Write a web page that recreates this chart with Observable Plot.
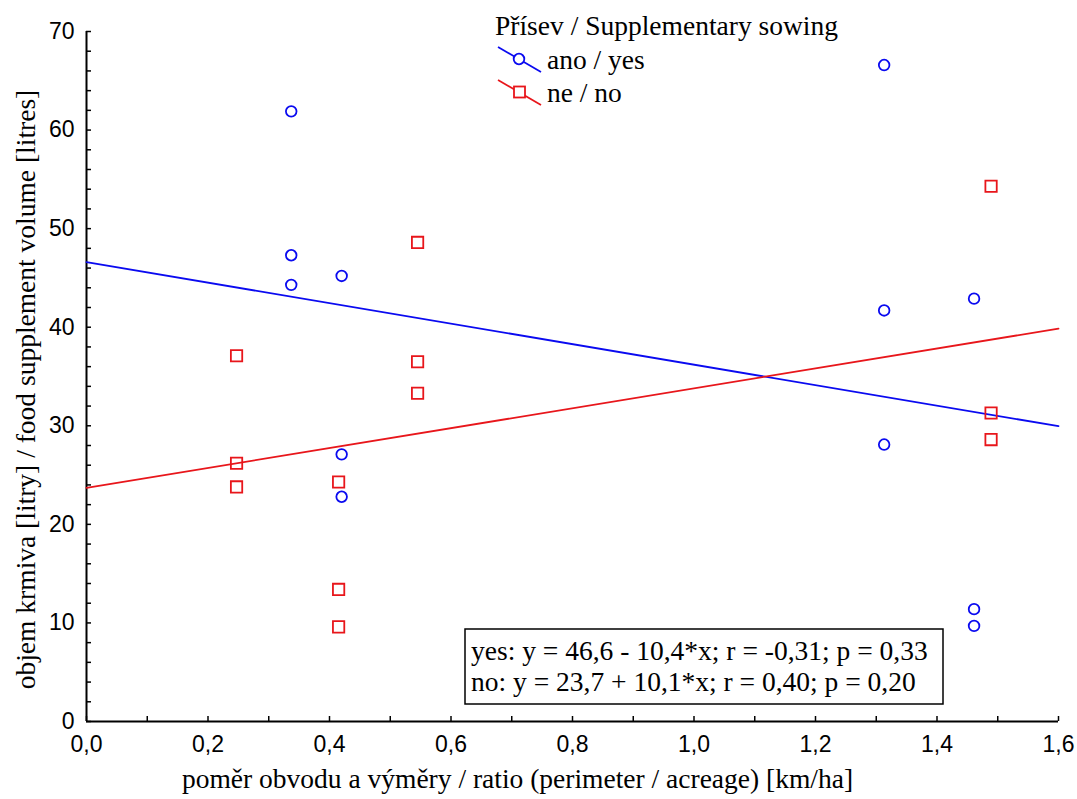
<!DOCTYPE html>
<html><head><meta charset="utf-8">
<script src="https://cdn.jsdelivr.net/npm/d3@7"></script>
<script src="https://cdn.jsdelivr.net/npm/@observablehq/plot@0.6"></script>
<style>
body{margin:0;background:#fff}
#wrap{position:relative;width:1077px;height:799px;overflow:hidden}
#wrap svg{display:block}
#overlay{position:absolute;left:0;top:0;pointer-events:none}
</style>
</head><body>
<div id="wrap"></div>
<script>
// ---- data ----
const yesX = [0.337, 0.337, 0.337, 0.420, 0.420, 0.420, 1.313, 1.313, 1.313, 1.461, 1.461, 1.461];
const yesY = [61.9, 47.3, 44.3, 45.2, 27.1, 22.8, 66.6, 41.7, 28.1, 42.9, 11.4, 9.7];
const noX  = [0.247, 0.247, 0.247, 0.415, 0.415, 0.415, 0.545, 0.545, 0.545, 1.489, 1.489, 1.489];
const noY  = [37.1, 26.2, 23.8, 24.3, 13.4, 9.6, 48.6, 36.5, 33.3, 54.3, 31.3, 28.6];
const fitX = [0, 1.6];
const yesFitY = [46.6, 29.96];
const noFitY = [23.7, 39.86];
const xMajor = [0, 0.2, 0.4, 0.6, 0.8, 1.0, 1.2, 1.4, 1.6];
const xMinor = [0.1, 0.3, 0.5, 0.7, 0.9, 1.1, 1.3, 1.5];
const yMajor = [0, 10, 20, 30, 40, 50, 60, 70];
const yMinor = [2,4,6,8,12,14,16,18,22,24,26,28,32,34,36,38,42,44,46,48,52,54,56,58,62,64,66,68];
const seriesNames = ["ano / yes", "ne / no"];
const legendTitle = "Přísev / Supplementary sowing";
const xLabel = "poměr obvodu a výměry / ratio (perimeter / acreage) [km/ha]";
const yLabel = "objem krmiva [litry] / food supplement volume [litres]";
const statLines = ["yes: y = 46,6 - 10,4*x; r = -0,31; p = 0,33", "no: y = 23,7 + 10,1*x; r = 0,40; p = 0,20"];

const BLUE = "#0a0af0", RED = "#e8161b";
const yesPts = yesX.map((x, i) => ({x, y: yesY[i]}));
const noPts = noX.map((x, i) => ({x, y: noY[i]}));
const yesFit = fitX.map((x, i) => ({x, y: yesFitY[i]}));
const noFit = fitX.map((x, i) => ({x, y: noFitY[i]}));
const fmt = d => d.toFixed(1).replace(".", ",");
const SERIF = "'Liberation Serif','Times New Roman',serif";
const SFS = 27.5;

const W = 1077, H = 799, ML = 86, MR = 19, MT = 31, MB = 78;
const pw = W - ML - MR, ph = H - MT - MB;

const chart = Plot.plot({
  width: W, height: H,
  marginLeft: ML, marginRight: MR, marginTop: MT, marginBottom: MB,
  x: {domain: [0, 1.6]},
  y: {domain: [0, 70]},
  style: {fontFamily: "'Liberation Sans',Arial,sans-serif", fontSize: "23px", color: "#000", background: "#fff"},
  marks: [
    Plot.axisY({ticks: yMajor, tickSize: 0, tickPadding: 12, tickFormat: d => String(d), label: null, fontSize: 23}),
    Plot.axisX({ticks: xMajor, tickSize: 0, tickPadding: 14, tickFormat: fmt, label: null, fontSize: 23}),
    Plot.tickY(yMajor.concat(yMinor), {y: d => d, insetRight: pw - 5, stroke: "#000", strokeWidth: 1.5}),
    Plot.tickX(xMajor.concat(xMinor), {x: d => d, insetTop: ph - 5, stroke: "#000", strokeWidth: 1.5}),
    Plot.ruleX([0], {stroke: "#000", strokeWidth: 2}),
    Plot.ruleY([0], {stroke: "#000", strokeWidth: 2}),
    Plot.line(yesFit, {x: "x", y: "y", stroke: BLUE, strokeWidth: 1.8}),
    Plot.line(noFit, {x: "x", y: "y", stroke: RED, strokeWidth: 1.8}),
    Plot.dot(yesPts, {x: "x", y: "y", r: 5.3, stroke: BLUE, strokeWidth: 1.8, fill: "none"}),
    Plot.dot(noPts, {x: "x", y: "y", symbol: "square", r: 6.4, stroke: RED, strokeWidth: 1.8, fill: "none"}),
    Plot.text([xLabel], {text: d => d, frameAnchor: "bottom", textAnchor: "middle", dx: 517 - (ML + pw / 2), dy: 66, fontFamily: SERIF, fontSize: SFS}),
    Plot.text([yLabel], {text: d => d, frameAnchor: "left", textAnchor: "middle", rotate: -90, dx: 26 - ML, dy: 389 - (MT + ph / 2), fontFamily: SERIF, fontSize: SFS})
  ]
});
const wrap = document.getElementById("wrap");
wrap.appendChild(chart);

// overlay: legend + statistics box
const ov = d3.select(wrap).append("svg").attr("id", "overlay").attr("width", W).attr("height", H)
  .style("font-family", SERIF).style("font-size", SFS + "px");
ov.append("text").attr("x", 495).attr("y", 35).text(legendTitle);
const leg = [{c: BLUE, sym: "circle", name: seriesNames[0], y: 59}, {c: RED, sym: "square", name: seriesNames[1], y: 92}];
leg.forEach(l => {
  ov.append("line").attr("x1", 498).attr("y1", l.y - 12).attr("x2", 541).attr("y2", l.y + 13)
    .attr("stroke", l.c).attr("stroke-width", 1.8);
  if (l.sym === "circle") ov.append("circle").attr("cx", 519).attr("cy", l.y).attr("r", 5.3).attr("fill", "#fff").attr("stroke", l.c).attr("stroke-width", 1.8);
  else ov.append("rect").attr("x", 514).attr("y", l.y - 5.5).attr("width", 11).attr("height", 11).attr("fill", "#fff").attr("stroke", l.c).attr("stroke-width", 1.8);
  ov.append("text").attr("x", 547).attr("y", l.y + 10).text(l.name);
});
ov.append("rect").attr("x", 465).attr("y", 629).attr("width", 478).attr("height", 75)
  .attr("fill", "#fff").attr("stroke", "#000").attr("stroke-width", 1.5);
statLines.forEach((t, i) => ov.append("text").attr("x", 471).attr("y", 660 + i * 31).text(t));
</script>
</body></html>
